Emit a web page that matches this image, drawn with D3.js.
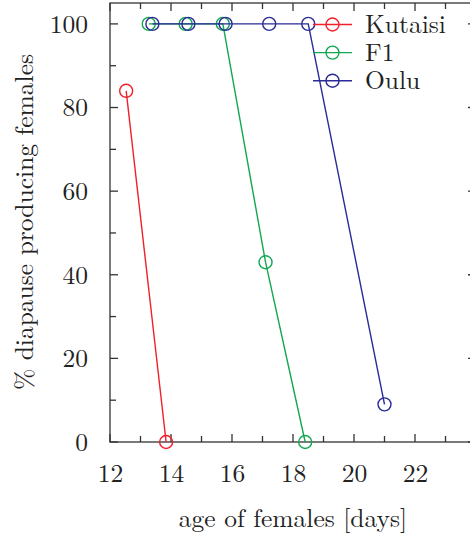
<!DOCTYPE html>
<html><head><meta charset="utf-8">
<script src="https://cdn.jsdelivr.net/npm/d3@7"></script>
<style>body{margin:0;background:#fff}svg{display:block}</style>
</head><body><svg id="c" width="470" height="535"></svg>
<script>
const seriesNames = ["Kutaisi", "F1", "Oulu"];
const seriesColors = ["#f0202a", "#10a850", "#2a2a98"];
const kutaisiX = [12.53, 13.84];
const kutaisiY = [84, 0];
const f1X = [13.27, 14.48, 15.7, 17.1, 18.4];
const f1Y = [100, 100, 100, 43, 0];
const ouluX = [13.39, 14.57, 15.79, 17.22, 18.5, 21.0];
const ouluY = [100, 100, 100, 100, 100, 9];
const xTicks = [12, 14, 16, 18, 20, 22];
const yTicks = [0, 20, 40, 60, 80, 100];
const xLabel = "age of females [days]";
const yLabel = "% diapause producing females";

const FONT = "Latin Modern Roman, Liberation Serif, serif";
const FS = 25.5;
const TXT = "#222";
const svg = d3.select("#c");
const L = 110, R = 476, T = 3, B = 442;
const x = d3.scaleLinear().domain([12, 24]).range([L, R]);
const y = d3.scaleLinear().domain([0, 105]).range([B, T]);
const axisCol = "#333";

svg.append("rect").attr("x", L).attr("y", T).attr("width", R - L).attr("height", B - T)
  .attr("fill", "none").attr("stroke", axisCol).attr("stroke-width", 1.3);

const g = svg.append("g");
const minorX = d3.range(12, 24.01, 1);
const minorY = d3.range(0, 105, 10);
function tickLen(major){ return major ? 8 : 6; }
minorX.forEach(v => {
  const len = tickLen(v % 2 === 0);
  g.append("line").attr("x1", x(v)).attr("x2", x(v)).attr("y1", B).attr("y2", B - len).attr("stroke", axisCol).attr("stroke-width", 1.3);
  g.append("line").attr("x1", x(v)).attr("x2", x(v)).attr("y1", T).attr("y2", T + len).attr("stroke", axisCol).attr("stroke-width", 1.3);
});
minorY.forEach(v => {
  const len = tickLen(v % 20 === 0);
  g.append("line").attr("y1", y(v)).attr("y2", y(v)).attr("x1", L).attr("x2", L + len).attr("stroke", axisCol).attr("stroke-width", 1.3);
  g.append("line").attr("y1", y(v)).attr("y2", y(v)).attr("x1", R).attr("x2", R - len).attr("stroke", axisCol).attr("stroke-width", 1.3);
});

const xAxis = svg.append("g").attr("transform", `translate(0,${B})`)
  .call(d3.axisBottom(x).tickValues(xTicks).tickSize(0).tickPadding(0).tickFormat(d3.format("d")));
xAxis.attr("font-family", FONT).attr("font-size", FS);
xAxis.select(".domain").remove();
xAxis.selectAll("text").attr("fill", TXT).attr("dy", null).attr("y", 40);

const yAxis = svg.append("g").attr("transform", `translate(${L},0)`)
  .call(d3.axisLeft(y).tickValues(yTicks).tickSize(0).tickPadding(0).tickFormat(d3.format("d")));
yAxis.attr("font-family", FONT).attr("font-size", FS);
yAxis.select(".domain").remove();
yAxis.selectAll("text").attr("fill", TXT).attr("dy", null).attr("x", -22).attr("y", 8.3);

svg.append("text").attr("x", 293).attr("y", 527).attr("text-anchor", "middle")
  .attr("font-family", FONT).attr("font-size", FS).attr("fill", TXT).text(xLabel);
svg.append("text").attr("transform", "translate(33,222) rotate(-90)").attr("text-anchor", "middle")
  .attr("font-family", FONT).attr("font-size", FS).attr("fill", TXT).text(yLabel);

const data = [
  {xs: kutaisiX, ys: kutaisiY},
  {xs: f1X, ys: f1Y},
  {xs: ouluX, ys: ouluY}
];
const line = d3.line().x(d => x(d[0])).y(d => y(d[1]));
data.forEach((s, i) => {
  const pts = s.xs.map((v, j) => [v, s.ys[j]]);
  svg.append("path").attr("d", line(pts)).attr("fill", "none").attr("stroke", seriesColors[i]).attr("stroke-width", 1.4);
  svg.selectAll(null).data(pts).enter().append("circle")
    .attr("cx", d => x(d[0])).attr("cy", d => y(d[1])).attr("r", 6.5)
    .attr("fill", "none").attr("stroke", seriesColors[i]).attr("stroke-width", 1.4);
});

const lg = svg.append("g");
seriesNames.forEach((n, i) => {
  const cy = 24.5 + i * 28.1;
  lg.append("line").attr("x1", 313).attr("x2", 352).attr("y1", cy).attr("y2", cy).attr("stroke", seriesColors[i]).attr("stroke-width", 1.4);
  lg.append("circle").attr("cx", 332.5).attr("cy", cy).attr("r", 6.5).attr("fill", "none").attr("stroke", seriesColors[i]).attr("stroke-width", 1.4);
  lg.append("text").attr("x", 365).attr("y", cy + 8.3)
    .attr("font-family", FONT).attr("font-size", FS).attr("fill", TXT).text(n);
});
</script></body></html>
